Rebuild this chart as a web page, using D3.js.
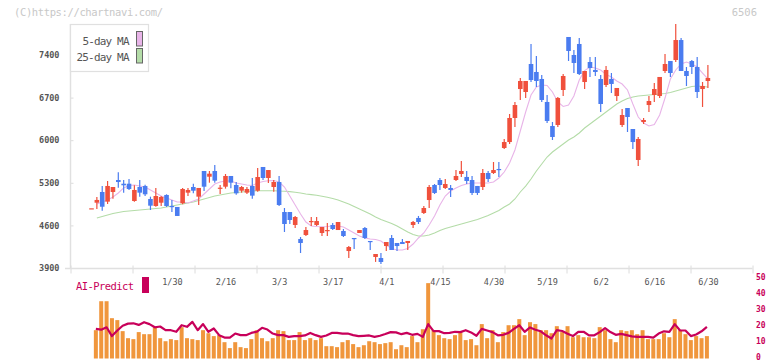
<!DOCTYPE html>
<html>
<head>
<meta charset="utf-8">
<script src="https://cdn.jsdelivr.net/npm/d3@7"></script>
<style>
  body { margin: 0; background: #fff; }
  svg { display: block; }
</style>
</head>
<body>
<div id="chart"></div>
<script>
// Datos (precios diarios, 116 velas)
const open = [4881,4973,5149,4990,5149,5346,5285,5285,5001,5231,5248,5034,4919,4973,5100,4919,4903,4963,5138,5231,
  5072,5494,5400,5494,5204,5236,5412,5264,5170,5138,5248,5170,5560,5379,5231,5313,4820,4820,4607,4377,
  4442,4656,4607,4475,4508,4607,4524,4508,4179,4393,4475,4557,4344,4081,4064,4261,4393,4311,4327,4311,
  4607,4722,4804,5017,5264,5346,5215,5215,5346,5445,5396,5346,5248,5231,5461,5461,5527,5872,5970,6365,
  6841,6792,7252,7121,7006,6628,6233,6250,6825,7696,7400,7581,6956,7285,7154,7006,6907,7006,6726,6250,
  6529,6184,5675,6299,6578,6743,6726,7137,7301,7318,7646,7137,7301,7203,6841,6973];
const high = [4881,5067,5248,5330,5231,5473,5346,5363,5259,5346,5269,5072,5215,5083,5111,5017,4903,5215,5215,5285,
  5215,5494,5494,5593,5264,5445,5412,5313,5248,5231,5379,5543,5560,5510,5346,5412,4886,4820,4755,4409,
  4574,4738,4738,4574,4639,4639,4656,4541,4261,4393,4524,4574,4344,4130,4146,4327,4442,4311,4377,4344,
  4672,4755,4919,5264,5280,5379,5363,5264,5510,5658,5494,5412,5248,5527,5494,5642,5642,6020,6431,6628,
  7022,6973,7580,7383,7071,6743,6299,6710,7088,7696,7482,7679,7137,7367,7367,7071,7219,7104,6858,6513,
  6529,6184,6053,6365,6726,6940,7039,7416,7301,7909,7679,7203,7318,7367,6956,7236];
const low = [4881,4870,4842,4952,5039,5220,5138,5182,4990,5072,5083,4853,4907,4919,4903,4820,4755,4947,5083,5127,
  4935,5165,5302,5302,5116,5204,5209,5105,5138,5116,5039,5154,5346,5297,5154,4919,4492,4623,4557,4146,
  4426,4590,4590,4426,4426,4524,4524,4409,4064,4212,4475,4377,4196,4000,3966,4179,4196,4179,4294,4196,
  4557,4623,4787,4886,5116,5182,5198,5067,5330,5396,5280,5100,5100,5182,5313,5445,5396,5855,5938,6217,
  6661,6693,6956,6874,6628,6283,6003,6217,6726,7301,7104,7071,6841,7039,7055,6463,6874,6776,6644,6217,
  6135,5855,5576,6266,6463,6628,6693,7104,7039,7285,7137,6891,7088,6693,6546,6858];
const close = [4881,5018,4907,5248,5231,5313,5259,5198,5182,5138,5111,4924,5083,5067,4919,4903,4755,5198,5182,5170,
  5215,5236,5450,5335,5220,5412,5302,5127,5231,5198,5089,5395,5379,5510,5313,4935,4623,4689,4738,4311,
  4524,4672,4672,4574,4524,4541,4656,4426,4245,4377,4524,4393,4327,4130,3999,4327,4196,4261,4294,4344,
  4656,4656,4886,5231,5133,5264,5280,5182,5412,5494,5330,5133,5133,5461,5363,5510,5510,5970,6365,6578,
  6973,6973,6989,6973,6661,6316,6053,6694,7055,7466,7269,7088,7137,7186,7121,6595,7154,6924,6858,6414,
  6381,5970,6020,6332,6644,6841,7039,7252,7104,7646,7137,7055,7203,6792,6891,7022];

// Medias móviles
const ma5 = [null,4952,4985,5017,5067,5132,5215,5256,5264,5247,5231,5182,5132,5083,5050,5017,4985,4985,4968,5001,
  5034,5116,5198,5280,5313,5330,5330,5297,5280,5264,5256,5297,5321,5334,5338,5313,5231,5083,4935,4787,
  4656,4590,4582,4579,4582,4590,4590,4574,4524,4475,4426,4393,4377,4369,4344,4278,4220,4196,4196,4220,
  4294,4393,4475,4607,4754,4935,5083,5165,5215,5256,5280,5297,5297,5297,5297,5313,5379,5477,5625,5839,
  6151,6463,6743,6874,6907,6899,6792,6628,6554,6578,6726,6989,7145,7203,7186,7154,7080,7039,6973,6923,
  6825,6595,6381,6283,6233,6258,6414,6693,7006,7154,7252,7285,7252,7203,7104,7006];
const ma25 = [null,4722,4746,4771,4796,4812,4828,4837,4845,4853,4861,4870,4878,4886,4903,4919,4935,4952,4968,4985,
  5009,5034,5058,5083,5100,5116,5132,5141,5149,5157,5165,5170,5170,5170,5170,5165,5162,5155,5146,5132,
  5116,5106,5095,5078,5062,5042,5017,4985,4952,4911,4870,4829,4787,4738,4697,4664,4631,4590,4541,4492,
  4450,4426,4426,4442,4475,4516,4549,4574,4598,4623,4648,4672,4697,4730,4763,4804,4845,4902,4952,5034,
  5149,5247,5362,5494,5609,5724,5806,5872,5938,6003,6053,6118,6200,6266,6332,6398,6463,6529,6595,6644,
  6685,6710,6726,6735,6743,6751,6759,6767,6784,6808,6833,6858,6882,6891,6882,6874];

// Panel inferior: barras y línea AI-Predict
const bars = [null,17.7,35.8,35.8,25.2,24,17.1,12.7,12.1,16.5,15.2,15.2,19.6,12.7,10.8,12.1,11.5,19.6,12.7,12.1,
  11.5,17.7,15.8,14,14.6,10.2,6.5,10.2,7.1,6.5,12.1,17.7,12.7,10.8,12.7,17.7,17.1,11.5,11.5,16.5,
  11.5,12.7,11.5,12.7,7.7,7.7,7.1,10.2,11.5,9,7.1,8.3,10.8,10.2,9,9.6,10.2,5.8,8.3,7.1,
  14,10.2,18.3,47.1,17.7,14.6,12.7,12.1,14.6,16.5,11.5,12.1,8.3,21.5,12.7,17.7,10.2,16.5,20.8,20.8,
  24.6,14.6,22.7,21.5,17.7,17.7,15.8,20.2,16.5,20.2,13.3,14.6,13.3,13.3,12.7,19.6,17.7,12.1,10.2,17.7,
  17.1,17.7,15.2,17.7,12.1,12.1,12.1,15.8,13.3,24.6,17.7,15.2,11.5,14,12.7,14];
const ai = [null,18.5,18,19.5,14,17.5,20.5,21.8,22,21,22.7,21.5,19.5,20,17.7,17.7,16.7,20.8,19.8,22.9,
  17.7,21.5,16.7,18.75,14.6,13.1,13.1,15.6,14.6,14.6,16,16.7,19.2,18.1,15.6,14.6,14.6,13.5,14,14,
  14.4,16,14.6,13.5,14.4,16,16,15.6,15.6,14.6,14,14.2,14.4,13.5,14.2,15.3,16.5,16.3,15.2,16,
  14.8,15.4,13.5,21.5,17.1,17.1,15.8,16,16.7,16.5,17.7,16.3,14.2,18.5,17.5,16.5,14.5,14.8,16,18.5,
  20.8,16.7,19.4,18,17,14.5,12.5,17.7,17.2,15.5,14,16.7,16.7,14.5,14.5,16.5,19,16.5,14.8,15.4,
  14.6,13.8,13.5,13.5,13.5,13,15.6,17,16.7,21.5,17.5,17.5,14,15,17,19.8];

// Etiquetas de fecha (índice de vela)
const dateIdx = [15,25,35,45,55,65,75,85,95,105,115];
const dateLabels = ["1/30","2/16","3/3","3/17","4/1","4/15","4/30","5/19","6/2","6/16","6/30"];
const priceTicks = [3900,4600,5300,6000,6700,7400];
const subTicks = [0,10,20,30,40,50];

const W = 772, H = 361;
const mono = "'DejaVu Sans Mono', 'Liberation Mono', monospace";
const upColor = "#f0503c", downColor = "#4a7cf0";
const maPink = "#e8b4e8", maGreen = "#b4dca8";
const crimson = "#c8005a", orange = "#f0963c";

const svg = d3.select("#chart").append("svg")
  .attr("width", W).attr("height", H);

// Escalas
const x = d3.scaleLinear().domain([0, 115]).range([91.5, 707.9]);
const y = d3.scaleLinear().domain([3900, 7400]).range([268, 55]);
const v = d3.scaleLinear().domain([0, 50]).range([358.5, 278.5]);
const grid = d3.scaleLinear().domain([0, 11]).range([70.5, 752.5]);

// Textos de cabecera
svg.append("text").attr("x", 14).attr("y", 16)
  .attr("font-family", mono).attr("font-size", 10.5).attr("fill", "#c8c8c8")
  .attr("textLength", 149).text("(C)https://chartnavi.com/");
svg.append("text").attr("x", 757).attr("y", 16).attr("text-anchor", "end")
  .attr("font-family", mono).attr("font-size", 10.5).attr("fill", "#c8c8c8")
  .text("6506");

// Eje Y
const yAxis = svg.append("g")
  .attr("transform", "translate(70.5,0)")
  .call(d3.axisLeft(y).tickValues(priceTicks).tickSize(6).tickPadding(5).tickFormat(d3.format("d")));
yAxis.select(".domain").remove();
yAxis.selectAll(".tick line").attr("x2", 3).attr("stroke", "#dcdcdc");
yAxis.selectAll("text").attr("font-family", mono).attr("font-size", 8.5)
  .attr("font-weight", "bold").attr("fill", "#555");
svg.append("line").attr("x1", 70.5).attr("x2", 70.5).attr("y1", 24).attr("y2", 268)
  .attr("stroke", "#e0e0e0").attr("stroke-width", 1.5);

// Eje X (marcas de rejilla)
const xAxis = svg.append("g")
  .attr("transform", "translate(0,268.5)")
  .call(d3.axisBottom(grid).ticks(11).tickSize(5).tickFormat(""));
xAxis.select(".domain").remove();
xAxis.selectAll(".tick line").attr("y1", -3).attr("stroke", "#dcdcdc");
svg.append("line").attr("x1", 65).attr("x2", 752.5).attr("y1", 268.5).attr("y2", 268.5)
  .attr("stroke", "#e0e0e0").attr("stroke-width", 1.5);

// Fechas
const dAxis = svg.append("g")
  .attr("transform", "translate(0,270)")
  .call(d3.axisBottom(x).tickValues(dateIdx).tickSize(0).tickPadding(9)
    .tickFormat((d, i) => dateLabels[i]));
dAxis.select(".domain").remove();
dAxis.selectAll("text").attr("font-family", mono).attr("font-size", 8.5).attr("fill", "#555");

// Medias móviles
const line = arr => d3.line()
  .defined(d => d != null)
  .x((d, i) => x(i))
  .y(d => y(d))(arr);
svg.append("path").attr("d", line(ma25)).attr("fill", "none")
  .attr("stroke", maGreen).attr("stroke-width", 1.1);
svg.append("path").attr("d", line(ma5)).attr("fill", "none")
  .attr("stroke", maPink).attr("stroke-width", 1.1);

// Velas
const candles = d3.range(open.length).map(i => ({
  i, o: open[i], h: high[i], l: low[i], c: close[i]
}));
const bodyW = 4.6;
const cg = svg.append("g").selectAll("g").data(candles).enter().append("g");
cg.append("line")
  .attr("x1", d => x(d.i)).attr("x2", d => x(d.i))
  .attr("y1", d => y(d.h)).attr("y2", d => y(d.l))
  .attr("stroke", d => d.c >= d.o ? upColor : downColor).attr("stroke-width", 1.2);
cg.append("rect")
  .attr("x", d => x(d.i) - bodyW / 2)
  .attr("width", bodyW)
  .attr("y", d => y(Math.max(d.o, d.c)))
  .attr("height", d => Math.max(1.2, Math.abs(y(d.o) - y(d.c))))
  .attr("fill", d => d.c >= d.o ? upColor : downColor);

// Leyenda
const lg = svg.append("g");
lg.append("rect").attr("x", 70.5).attr("y", 24.5).attr("width", 78).attr("height", 47)
  .attr("fill", "#fff").attr("stroke", "#e0e0e0").attr("stroke-width", 1.2);
const legItems = [["5-day MA", maPink], ["25-day MA", maGreen]];
legItems.forEach((it, k) => {
  lg.append("text").attr("x", 129.5).attr("y", 44.5 + k * 16).attr("text-anchor", "end")
    .attr("font-family", mono).attr("font-size", 11).attr("fill", "#555")
    .attr("textLength", k ? 53 : 47).text(it[0]);
  lg.append("rect").attr("x", 136.5).attr("y", 31.5 + k * 17).attr("width", 6).attr("height", 14.5)
    .attr("fill", it[1]).attr("stroke", "#666").attr("stroke-width", 1);
});

// Panel AI-Predict
svg.append("text").attr("x", 76).attr("y", 290)
  .attr("font-family", mono).attr("font-size", 10.5).attr("fill", crimson)
  .attr("textLength", 58).text("AI-Predict");
svg.append("rect").attr("x", 142).attr("y", 277).attr("width", 7).attr("height", 16)
  .attr("fill", crimson);

const barData = bars.map((b, i) => ({ i, b })).filter(d => d.b != null);
svg.append("g").selectAll("rect").data(barData).enter().append("rect")
  .attr("x", d => x(d.i) - 3)
  .attr("width", 4)
  .attr("y", d => v(d.b))
  .attr("height", d => v(0) - v(d.b))
  .attr("fill", orange);

svg.append("path")
  .attr("d", d3.line().defined(d => d != null).x((d, i) => x(i) - 1).y(d => v(d))(ai))
  .attr("fill", "none").attr("stroke", crimson).attr("stroke-width", 2.2)
  .attr("stroke-linejoin", "round");

const rAxis = svg.append("g")
  .attr("transform", "translate(756,-1.5)")
  .call(d3.axisRight(v).tickValues(subTicks).tickSize(0).tickPadding(0));
rAxis.select(".domain").remove();
rAxis.selectAll("text").attr("font-family", mono).attr("font-size", 8)
  .attr("font-weight", "bold").attr("fill", crimson);
</script>
</body>
</html>
